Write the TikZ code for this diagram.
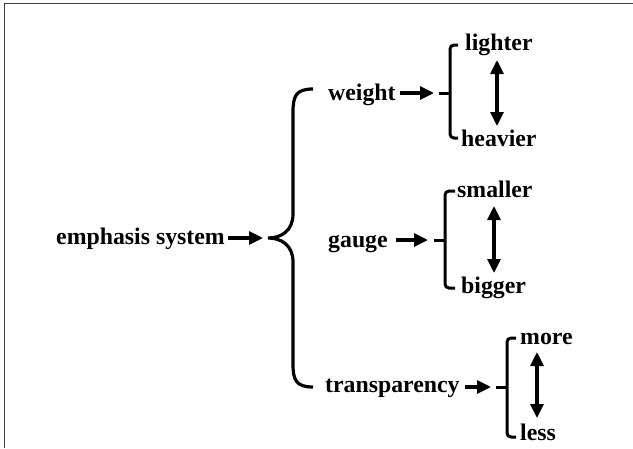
\documentclass[tikz,border=0pt]{standalone}
\usepackage{fontspec}
\setmainfont{Liberation Serif}
\usetikzlibrary{arrows.meta}
\begin{document}
\begin{tikzpicture}[x=1pt,y=-1pt,
  label/.style={font=\fontsize{23.8}{28}\selectfont\bfseries, inner sep=0pt},
  stroke/.style={line width=3.2pt},
  arr/.style={stroke, -{Triangle[length=14pt,width=13pt]}},
  dbl/.style={stroke, {Triangle[length=14pt,width=13pt]}-{Triangle[length=14pt,width=13pt]}},
  sbrace/.style={line width=3pt, rounded corners=4pt}]
  % page and frame (top and left edges)
  \useasboundingbox (0,0) rectangle (633,448);
  \draw[line width=1.5pt, color=black!75] (4.5,448) -- (4.5,3.5) -- (633,3.5);

  % root
  \node[label, anchor=mid east] (es) at (225,242) {emphasis system};
  \coordinate (tip) at (268,238);
  \draw[arr] (es.mid east) ++(3,-4) coordinate (esout) (esout) -- (263,238);

  % big brace
  \coordinate (btop) at (313,89);
  \coordinate (bbot) at (313,387);
  \draw[stroke] (btop) .. controls (296,89) and (293,96) .. (293,112)
     -- (293,214) .. controls (293,231) and (281,238) .. (tip)
     .. controls (281,238) and (293,245) .. (293,262)
     -- (293,364) .. controls (293,380) and (296,387) .. (bbot);

  % weight
  \node[label, anchor=mid west] (weight) at (328,98) {weight};
  \coordinate (wa) at (434,93);
  \draw[arr] (weight.mid east) ++(4,-5) coordinate (wo) (wo) -- (wa);
  \draw[sbrace] (458,45) -- (450,45) -- (450,138) -- (458,138);
  \draw[line width=3pt] (439,93) -- (450,93);
  \node[label, anchor=mid west] (lighter) at (465,48) {lighter};
  \node[label, anchor=mid west] (heavier) at (461,144) {heavier};
  \coordinate (wu) at (497,60);
  \coordinate (wd) at (497,126);
  \draw[dbl] (wu) -- (wd);

  % gauge
  \node[label, anchor=mid west] (gauge) at (328,245) {gauge};
  \coordinate (ga) at (428,240);
  \draw[arr] (gauge.mid east) ++(8,-5) coordinate (go) (go) -- (ga);
  \draw[sbrace] (455,191) -- (445,191) -- (445,288) -- (455,288);
  \draw[line width=3pt] (434,240) -- (445,240);
  \node[label, anchor=mid west] (smaller) at (457,195) {smaller};
  \node[label, anchor=mid west] (bigger) at (461,291) {bigger};
  \coordinate (gu) at (494,206);
  \coordinate (gd) at (494,273);
  \draw[dbl] (gu) -- (gd);

  % transparency
  \node[label, anchor=mid west] (transp) at (325,390) {transparency};
  \coordinate (ta) at (491,387);
  \draw[arr] (transp.mid east) ++(5,-3) coordinate (to) (to) -- (ta);
  \draw[sbrace] (516,338) -- (507,338) -- (507,437) -- (516,437);
  \draw[line width=3pt] (496,387) -- (507,387);
  \node[label, anchor=mid west] (more) at (520,342) {more};
  \node[label, anchor=mid west] (less) at (520,438) {less};
  \coordinate (tu) at (537,352);
  \coordinate (td) at (537,418);
  \draw[dbl] (tu) -- (td);
\end{tikzpicture}
\end{document}
